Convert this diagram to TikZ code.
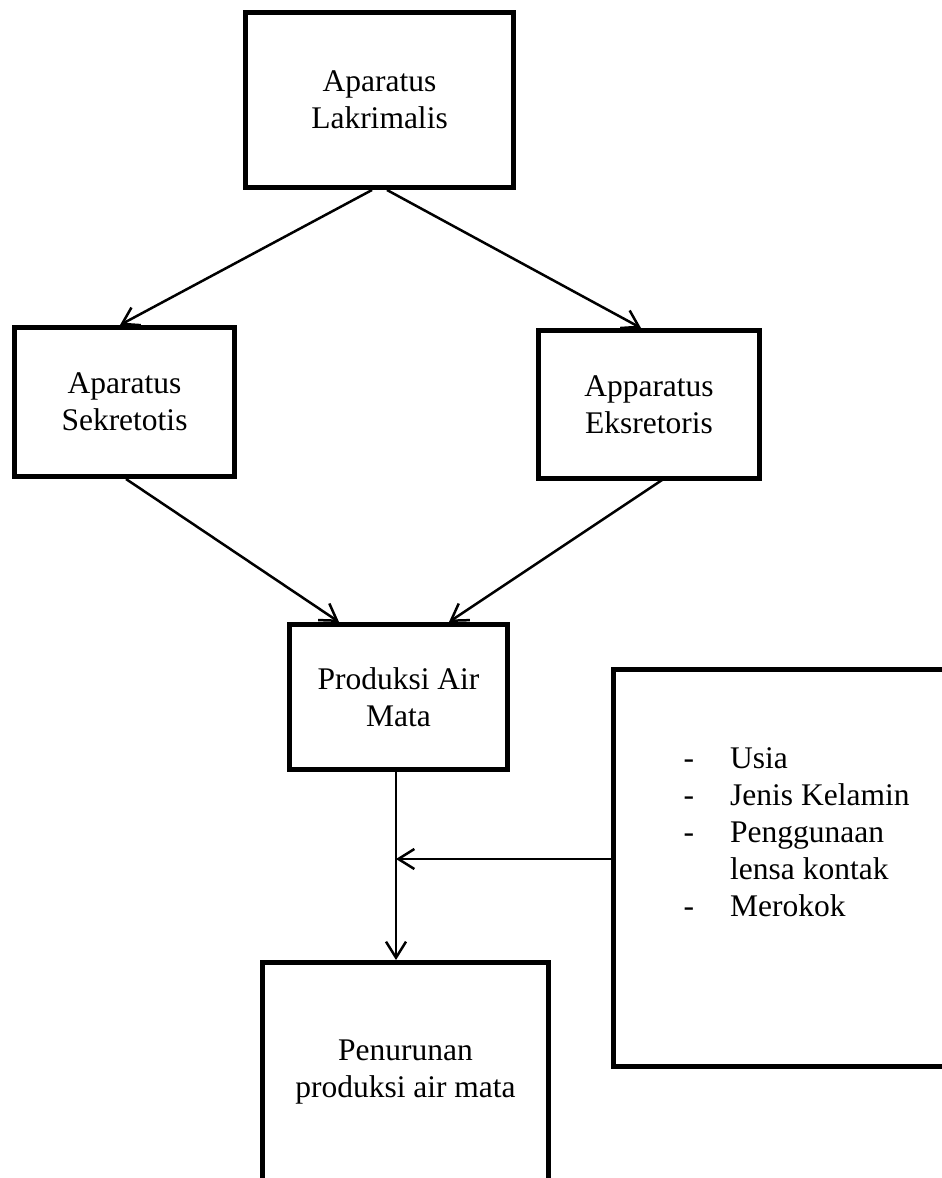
\documentclass[tikz,border=0pt]{standalone}
\usepackage{fontspec}
\setmainfont{Liberation Serif}
\usetikzlibrary{arrows.meta}
\begin{document}
\begin{tikzpicture}[x=1pt,y=-1pt,
  box/.style={draw,line width=5pt,inner sep=0pt,align=center,
    font=\fontsize{31.5}{37}\selectfont},
  conn/.style={line width=2.5pt,-{Straight Barb[length=16pt,width=20pt]}},
  listtext/.style={inner sep=0pt,anchor=base west,font=\fontsize{31.5}{37}\selectfont}
]
\useasboundingbox (0,0) rectangle (942,1178);
\clip (0,0) rectangle (942,1178);
\node[box,minimum width=268pt,minimum height=175pt] (b1) at (379.5,100) {Aparatus\\Lakrimalis};
\node[box,minimum width=220pt,minimum height=149pt] (b2) at (124.5,402) {Aparatus\\Sekretotis};
\node[box,minimum width=221pt,minimum height=148pt] (b3) at (649,404.5) {Apparatus\\Eksretoris};
\node[box,minimum width=218pt,minimum height=145pt] (b4) at (398.5,697) {Produksi Air\\Mata};
\node[box,minimum width=346.5pt,minimum height=397pt] (b5) at (786.75,868) {};
\node[box,minimum width=286pt,minimum height=219pt] (b6) at (405.5,1072) {Penurunan\\produksi air mata};
\node[listtext] (lst) at (683.5,768) {\begin{tabular}[t]{@{}p{46.5pt}@{}l@{}}
-&Usia\\
-&Jenis Kelamin\\
-&Penggunaan\\
&lensa kontak\\
-&Merokok
\end{tabular}};
\coordinate (j) at (396,859);
\draw[conn] ([xshift=-7.5pt]b1.south) -- ([xshift=-4.5pt]b2.north);
\draw[conn] ([xshift=7.5pt]b1.south) -- ([xshift=-8pt]b3.north);
\draw[conn] ([xshift=1.5pt]b2.south) -- ([xshift=-59.5pt]b4.north);
\draw[conn] ([xshift=16pt,yshift=3pt]b3.south) -- ([xshift=50.5pt]b4.north);
\draw[conn] ([xshift=-2.5pt]b4.south) -- ([xshift=-9.5pt]b6.north);
\draw[conn] ([yshift=9pt]b5.west) -- (j);
\end{tikzpicture}
\end{document}
